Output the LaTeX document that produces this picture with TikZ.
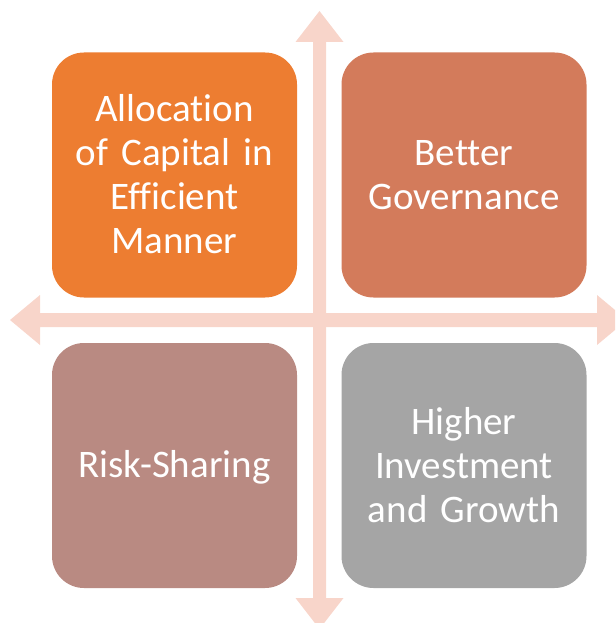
\documentclass[tikz,border=0pt]{standalone}
\usepackage{fontspec}
\setmainfont[Ligatures={NoCommon}]{Carlito}
\definecolor{arrowc}{HTML}{F8D5CA}
\definecolor{c1}{HTML}{ED7D31}
\definecolor{c2}{HTML}{D37B5B}
\definecolor{c3}{HTML}{B98A82}
\definecolor{c4}{HTML}{A5A5A5}
\begin{document}
\begin{tikzpicture}[x=1pt,y=-1pt,
  quad/.style={rounded corners=32pt, minimum width=245pt, minimum height=245pt,
    inner sep=0pt, text=white, align=center,
    font=\fontsize{39}{44}\selectfont, text width=235pt},
  arr/.style={fill=arrowc, draw=none}]
\useasboundingbox (0,0) rectangle (615,623);
\clip (0,0) rectangle (615,623);
% vertical double arrow
\fill[arr] (319.5,11) -- (343.5,42) -- (326,42) -- (326,598) -- (343.5,598)
  -- (319.5,629) -- (295.5,598) -- (313,598) -- (313,42) -- (295.5,42) -- cycle;
% horizontal double arrow
\fill[arr] (10,320) -- (40,295) -- (40,313) -- (597,313) -- (597,295)
  -- (627,320) -- (597,345) -- (597,327) -- (40,327) -- (40,345) -- cycle;
\node[quad, fill=c1] (tl) at (174.5,175) {};
\node[quad, fill=c2] (tr) at (464,175) {};
\node[quad, fill=c3] (bl) at (174.5,465.5) {};
\node[quad, fill=c4] (br) at (464,465.5) {};
\node[quad, fill=none] at (174.5,174.5) {Allocation\\of Capital in\\Efficient\\Manner};
\node[quad, fill=none] at (464,175.5) {Better\\Governance};
\node[quad, fill=none] at (174.5,467) {Risk-Sharing};
\node[quad, fill=none] at (464,465) {Higher\\Investment\\and Growth};
\end{tikzpicture}
\end{document}
